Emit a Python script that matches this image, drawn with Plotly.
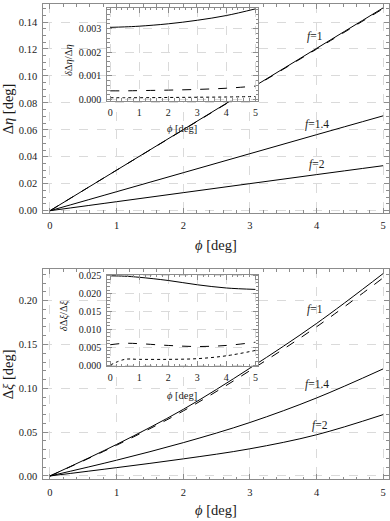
import plotly.graph_objects as go

W, H = 390, 521
FONT = "'Liberation Serif', 'Times New Roman', serif"

# ---- data ----
phi = [0, 1, 2, 3, 4, 5]

# top panel: Delta eta [deg]
deta_f1 = [0.0, 0.0301, 0.0602, 0.0903, 0.1204, 0.1505]
deta_f1_approx = [0.0, 0.0301, 0.0600, 0.0900, 0.1199, 0.1499]
deta_f14 = [0.0, 0.0141, 0.0282, 0.0423, 0.0564, 0.0704]
deta_f2 = [0.0, 0.0067, 0.0134, 0.0201, 0.0268, 0.0334]

# top inset: relative error
phi_in = [0, 0.5, 1, 2, 3, 4, 5]
rel_eta_f1 = [0.00305, 0.00307, 0.00310, 0.00320, 0.00335, 0.00355, 0.00383]
rel_eta_f14 = [0.00037, 0.00037, 0.00038, 0.00040, 0.00043, 0.00048, 0.00057]
rel_eta_f2 = [0.00008, 0.00008, 0.00008, 0.00009, 0.00010, 0.00011, 0.00013]

# bottom panel: Delta xi [deg]
dxi_f1 = [0.0, 0.0360, 0.0760, 0.1230, 0.1740, 0.2310]
dxi_f1_approx = [0.0, 0.0351, 0.0742, 0.1202, 0.1702, 0.2261]
dxi_f14 = [0.0, 0.0180, 0.0380, 0.0610, 0.0890, 0.1222]
dxi_f2 = [0.0, 0.0095, 0.0195, 0.0310, 0.0470, 0.0700]

# bottom inset: relative error
rel_xi_f1 = [0.0250, 0.0249, 0.0246, 0.0237, 0.0225, 0.0216, 0.0212]
rel_xi_f14 = [0.0057, 0.0061, 0.0060, 0.0055, 0.0052, 0.0055, 0.0064]
rel_xi_f2 = [0.0000, 0.0016, 0.0016, 0.0016, 0.0018, 0.0026, 0.0041]

f_labels = ["<i>f</i>=1", "<i>f</i>=1.4", "<i>f</i>=2"]
labels_top_pos = [(3.98, 0.129), (4.0, 0.0638), (4.0, 0.0345)]
labels_bot_pos = [(3.98, 0.190), (4.0, 0.104), (4.05, 0.058)]

# pixel boxes: (left, right, top, bottom)
MAIN_TOP = (43.3, 388.5, 0.5, 212.0)
INSET_TOP = (107.3, 258.3, 4.0, 98.3)
MAIN_BOT = (43.3, 388.5, 269.3, 482.7)
INSET_BOT = (107.3, 258.3, 275.0, 367.8)

XR_MAIN = [-0.1, 5.08]
XR_IN = [-0.1, 5.1]
YR_TOP = [-0.0015, 0.153]
YR_TOP_IN = [-0.00005, 0.00387]
YR_BOT = [-0.0038, 0.236]
YR_BOT_IN = [-0.0003, 0.0253]

FRAME = "#8c8c8c"
GRID = "#dadada"
TXT = "#1a1a1a"


def px_x(box):
    return [box[0] / W, box[1] / W]


def px_y(box):
    return [1 - box[3] / H, 1 - box[2] / H]


fig = go.Figure()


def add(x, y, xa, ya, dash="solid"):
    fig.add_trace(go.Scatter(x=x, y=y, mode="lines", xaxis=xa, yaxis=ya,
                             line=dict(color="black", width=1, dash=dash, shape="spline"),
                             showlegend=False, hoverinfo="skip"))


# main top
add(phi, deta_f1, "x", "y")
add(phi, deta_f1_approx, "x", "y", dash="dash")
add(phi, deta_f14, "x", "y")
add(phi, deta_f2, "x", "y")
# inset top
add(phi_in, rel_eta_f1, "x2", "y2")
add(phi_in, rel_eta_f14, "x2", "y2", dash="dash")
add(phi_in, rel_eta_f2, "x2", "y2", dash="dot")
# main bottom
add(phi, dxi_f1, "x3", "y3")
add(phi, dxi_f1_approx, "x3", "y3", dash="dash")
add(phi, dxi_f14, "x3", "y3")
add(phi, dxi_f2, "x3", "y3")
# inset bottom
add(phi_in, rel_xi_f1, "x4", "y4")
add(phi_in, rel_xi_f14, "x4", "y4", dash="dash")
add(phi_in, rel_xi_f2, "x4", "y4", dash="dot")


def ax(domain, anchor, rng, dtick, minor_dtick, fmt=None, size=10, standoff=4):
    d = dict(domain=domain, anchor=anchor, range=rng, dtick=dtick, tick0=0,
             showline=True, linecolor=FRAME, linewidth=1, mirror="ticks",
             ticks="inside", ticklen=5, tickcolor=FRAME, tickwidth=1,
             showgrid=True, gridcolor=GRID, griddash="dash", gridwidth=1,
             zeroline=False, tickfont=dict(family=FONT, size=size, color=TXT),
             ticklabelstandoff=standoff,
             minor=dict(dtick=minor_dtick, ticklen=2.5, tickcolor=FRAME, ticks="inside",
                        showgrid=False))
    if fmt:
        d["tickformat"] = fmt
    return d


fig.update_layout(
    width=W, height=H, margin=dict(l=0, r=0, t=0, b=0), autosize=False,
    paper_bgcolor="white", plot_bgcolor="white",
    xaxis=ax(px_x(MAIN_TOP), "y", XR_MAIN, 1, 0.2, size=10.5, standoff=3),
    yaxis=ax(px_y(MAIN_TOP), "x", YR_TOP, 0.02, 0.005, fmt=".2f", size=10.5, standoff=3),
    xaxis2=ax(px_x(INSET_TOP), "y2", XR_IN, 1, 0.2, size=10, standoff=2),
    yaxis2=ax(px_y(INSET_TOP), "x2", YR_TOP_IN, 0.001, 0.0002, fmt=".3f", size=10, standoff=3),
    xaxis3=ax(px_x(MAIN_BOT), "y3", XR_MAIN, 1, 0.2, size=10.5, standoff=3),
    yaxis3=ax(px_y(MAIN_BOT), "x3", YR_BOT, 0.05, 0.01, fmt=".2f", size=10.5, standoff=3),
    xaxis4=ax(px_x(INSET_BOT), "y4", XR_IN, 1, 0.2, size=10, standoff=2),
    yaxis4=ax(px_y(INSET_BOT), "x4", YR_BOT_IN, 0.005, 0.001, fmt=".3f", size=10, standoff=3),
)


def cover(main, inset, xr, yr, xref, yref):
    # white patch hiding the main grid behind an inset (data units of the main axes)
    l, r, t, b = main
    il, ir, it, ib = inset
    sx = (xr[1] - xr[0]) / (r - l)
    sy = (yr[1] - yr[0]) / (b - t)
    fig.add_shape(type="rect", xref=xref, yref=yref,
                  x0=xr[0] + (il - l) * sx, x1=xr[0] + (ir - l) * sx,
                  y0=yr[0] + (b - ib) * sy, y1=yr[0] + (b - it) * sy,
                  fillcolor="white", line=dict(width=0), layer="between")


cover(MAIN_TOP, INSET_TOP, XR_MAIN, YR_TOP, "x", "y")
cover(MAIN_BOT, INSET_BOT, XR_MAIN, YR_BOT, "x3", "y3")


def txt(x, y, s, size, xref="paper", yref="paper", angle=0):
    fig.add_annotation(x=x, y=y, xref=xref, yref=yref, text=s, showarrow=False,
                       textangle=angle, font=dict(family=FONT, size=size, color=TXT),
                       xanchor="center", yanchor="middle")


for s, (x, y) in zip(f_labels, labels_top_pos):
    txt(x, y, s, 11.5, "x", "y")
for s, (x, y) in zip(f_labels, labels_bot_pos):
    txt(x, y, s, 11.5, "x3", "y3")

# axis titles
txt(216 / W, 1 - 245 / H, "<i>ϕ</i> [deg]", 14.5)
txt(216 / W, 1 - 514 / H, "<i>ϕ</i> [deg]", 14.5)
txt(8 / W, 1 - 107 / H, "Δ<i>η</i> [deg]", 14.5, angle=-90)
txt(8 / W, 1 - 376 / H, "Δ<i>ξ</i> [deg]", 14.5, angle=-90)
txt(182 / W, 1 - 126 / H, "<i>ϕ</i> [deg]", 10.5)
txt(182 / W, 1 - 398 / H, "<i>ϕ</i> [deg]", 10.5)
txt(68 / W, 1 - 57 / H, "<i>δ</i>Δ<i>η</i>/Δ<i>η</i>", 10.5, angle=-90)
txt(64 / W, 1 - 317 / H, "<i>δ</i>Δ<i>ξ</i>/Δ<i>ξ</i>", 10.5, angle=-90)

fig.write_html("out.html", config={"displayModeBar": False},
               post_script="document.body.style.margin='0';")
